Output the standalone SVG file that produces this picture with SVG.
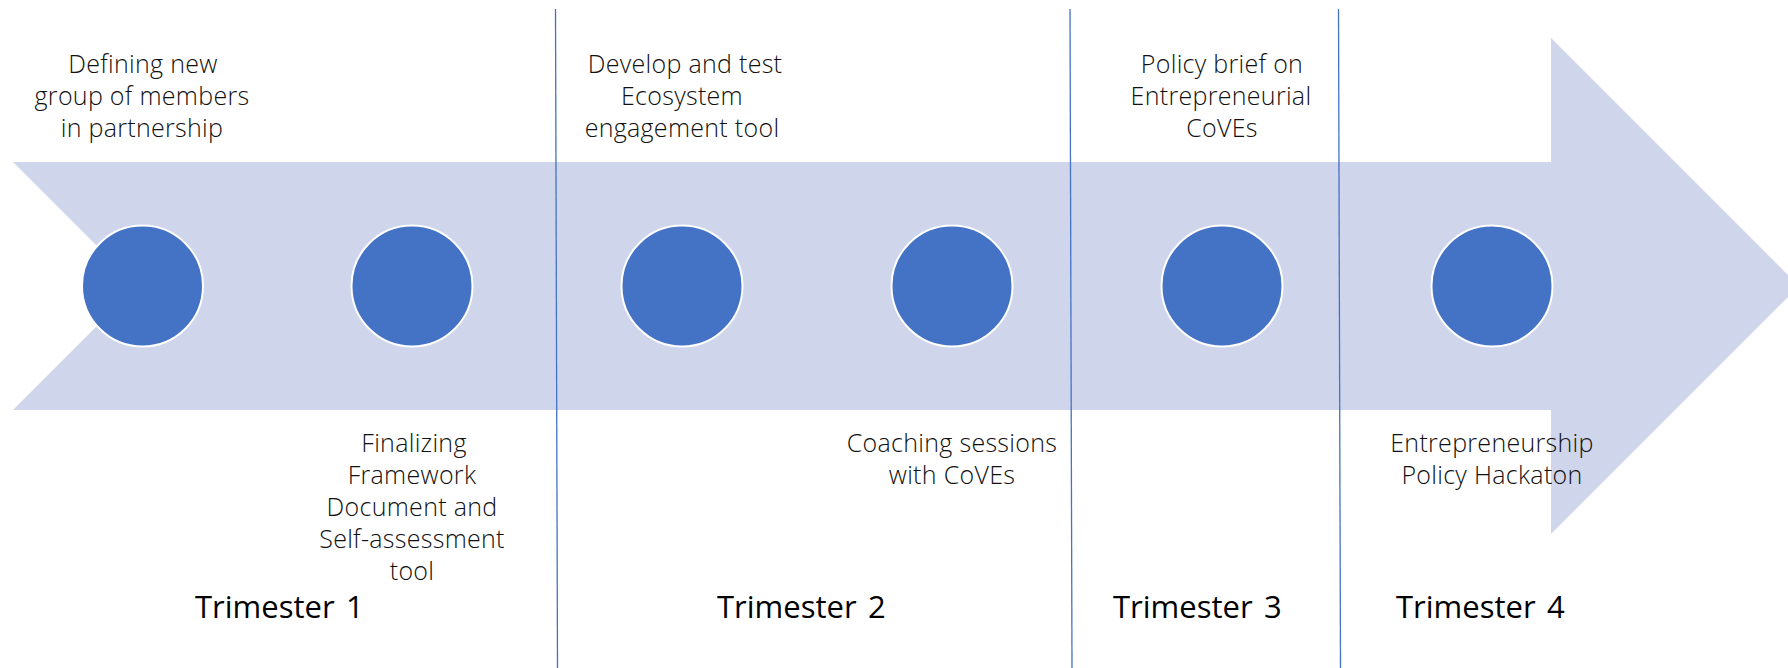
<svg xmlns="http://www.w3.org/2000/svg" width="1788" height="668" viewBox="0 0 1788 668">
  <style>
    .band { fill: #CFD5EA; }
    .dot { fill: #4472C4; stroke: #FFFFFF; stroke-width: 2; }
    .div { stroke: #4472C4; stroke-width: 1.3; fill: none; }
    .lbl { font-family: "Open Sans", "Liberation Sans", sans-serif; font-size: 25px; letter-spacing: 0.3px; font-weight: 300; fill: #111111; text-anchor: middle; }
    .tri { font-family: "Open Sans", "Liberation Sans", sans-serif; font-size: 31px; font-weight: 400; fill: #000000; }
  </style>
  <rect width="1788" height="668" fill="#FFFFFF"/>
  <g id="timeline-arrow">
    <polygon class="band" points="13,162 1551,162 1551,38 1799,286 1551,534 1551,410 13,410 137,286"/>
  </g>
  <g id="dividers">
    <line class="div" x1="555.5" y1="9" x2="557.5" y2="668"/>
    <line class="div" x1="1070" y1="9" x2="1072" y2="668"/>
    <line class="div" x1="1338.5" y1="9" x2="1340.5" y2="668"/>
  </g>
  <g id="m1">
    <circle class="dot" cx="142.5" cy="286" r="60.5"/>
    <text class="lbl"><tspan x="143" y="73">Defining new</tspan><tspan x="142" y="105">group of members</tspan><tspan x="142" y="137">in partnership</tspan></text>
  </g>
  <g id="m2">
    <circle class="dot" cx="412" cy="286" r="60.5"/>
    <text class="lbl"><tspan x="414" y="452">Finalizing</tspan><tspan x="412" y="484">Framework</tspan><tspan x="412" y="516">Document and</tspan><tspan x="412" y="548">Self-assessment</tspan><tspan x="412" y="580">tool</tspan></text>
  </g>
  <g id="m3">
    <circle class="dot" cx="682" cy="286" r="60.5"/>
    <text class="lbl"><tspan x="685" y="73">Develop and test</tspan><tspan x="682" y="105">Ecosystem</tspan><tspan x="682" y="137">engagement tool</tspan></text>
  </g>
  <g id="m4">
    <circle class="dot" cx="952" cy="286" r="60.5"/>
    <text class="lbl"><tspan x="952" y="452">Coaching sessions</tspan><tspan x="952" y="484">with CoVEs</tspan></text>
  </g>
  <g id="m5">
    <circle class="dot" cx="1222" cy="286" r="60.5"/>
    <text class="lbl"><tspan x="1222" y="73">Policy brief on</tspan><tspan x="1221" y="105">Entrepreneurial</tspan><tspan x="1222" y="137">CoVEs</tspan></text>
  </g>
  <g id="m6">
    <circle class="dot" cx="1492" cy="286" r="60.5"/>
    <text class="lbl"><tspan x="1492" y="452">Entrepreneurship</tspan><tspan x="1492" y="484">Policy Hackaton</tspan></text>
  </g>
  <g id="t1"><text class="tri" x="195" y="618">Trimester<tspan x="346">1</tspan></text></g>
  <g id="t2"><text class="tri" x="717" y="618">Trimester<tspan x="868">2</tspan></text></g>
  <g id="t3"><text class="tri" x="1113" y="618">Trimester<tspan x="1264">3</tspan></text></g>
  <g id="t4"><text class="tri" x="1396" y="618">Trimester<tspan x="1547">4</tspan></text></g>
</svg>
